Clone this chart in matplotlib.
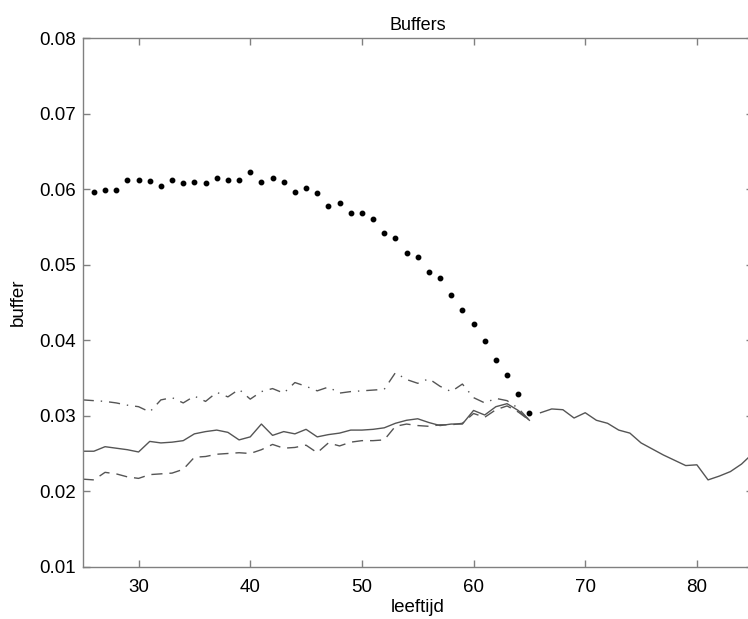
import numpy as np
import matplotlib.pyplot as plt

plt.rcParams['font.family'] = ['Liberation Sans', 'DejaVu Sans']

# ages
ages_work = np.arange(25, 66)
ages_dot = np.arange(26, 66)
ages_pension = np.arange(66, 86)

solid = [0.0253, 0.0253, 0.0259, 0.0257, 0.0255, 0.0252, 0.0266, 0.0264, 0.0265, 0.0267,
         0.0276, 0.0279, 0.0281, 0.0278, 0.0268, 0.0272, 0.0289, 0.0274, 0.0279, 0.0276,
         0.0282, 0.0272, 0.0275, 0.0277, 0.0281, 0.0281, 0.0282, 0.0284, 0.0290, 0.0294,
         0.0296, 0.0291, 0.0287, 0.0289, 0.0289, 0.0307, 0.0301, 0.0312, 0.0316, 0.0307,
         0.0294]
dashed = [0.0216, 0.0215, 0.0225, 0.0223, 0.0219, 0.0217, 0.0222, 0.0223, 0.0224, 0.0229,
          0.0245, 0.0246, 0.0249, 0.0250, 0.0251, 0.0250, 0.0255, 0.0262, 0.0257, 0.0258,
          0.0261, 0.0251, 0.0264, 0.0260, 0.0265, 0.0267, 0.0267, 0.0268, 0.0286, 0.0289,
          0.0287, 0.0286, 0.0288, 0.0288, 0.0290, 0.0303, 0.0298, 0.0308, 0.0313, 0.0305,
          0.0294]
dashdot = [0.0321, 0.0320, 0.0319, 0.0317, 0.0314, 0.0312, 0.0305, 0.0321, 0.0324, 0.0317,
           0.0326, 0.0319, 0.0331, 0.0325, 0.0335, 0.0322, 0.0332, 0.0336, 0.0330, 0.0344,
           0.0339, 0.0333, 0.0338, 0.0330, 0.0332, 0.0333, 0.0334, 0.0335, 0.0357, 0.0348,
           0.0343, 0.0349, 0.0339, 0.0332, 0.0342, 0.0324, 0.0317, 0.0323, 0.0320, 0.0310,
           0.0294]
dotted = [0.0597, 0.0599, 0.0599, 0.0612, 0.0612, 0.0611, 0.0605, 0.0613, 0.0609, 0.0610,
          0.0608, 0.0615, 0.0612, 0.0612, 0.0623, 0.0610, 0.0615, 0.0610, 0.0596, 0.0602,
          0.0595, 0.0578, 0.0582, 0.0569, 0.0569, 0.0561, 0.0542, 0.0536, 0.0515, 0.0510,
          0.0490, 0.0482, 0.0460, 0.0440, 0.0422, 0.0399, 0.0374, 0.0354, 0.0329, 0.0303]
pension = [0.0304, 0.0309, 0.0308, 0.0297, 0.0304, 0.0294, 0.0290, 0.0281, 0.0277, 0.0264,
           0.0256, 0.0248, 0.0241, 0.0234, 0.0235, 0.0215, 0.0220, 0.0226, 0.0236, 0.0250]

fig = plt.figure(figsize=(7.48, 6.19), dpi=100)
ax = fig.add_axes([0.1106, 0.0845, 0.8957, 0.8535])

line_col = '#555555'
ax.plot(ages_work, solid, color=line_col, lw=1.0)
ax.plot(ages_work, dashed, color=line_col, lw=1.0, dashes=(8, 5))
ax.plot(ages_work, dashdot, color=line_col, lw=1.0, dashes=(8, 5, 1, 5))
ax.plot(ages_pension, pension, color=line_col, lw=1.0)
ax.plot(ages_dot, dotted, 'o', color='black', ms=3.2, ls='none', clip_on=False)

ax.set_xlim(25, 85)
ax.set_ylim(0.01, 0.08)
ax.set_xticks([30, 40, 50, 60, 70, 80])
ax.set_yticks([0.01, 0.02, 0.03, 0.04, 0.05, 0.06, 0.07, 0.08])
ax.set_yticklabels(['0.01', '0.02', '0.03', '0.04', '0.05', '0.06', '0.07', '0.08'])

for s in ax.spines.values():
    s.set_color('#808080')
    s.set_linewidth(1.0)
ax.tick_params(direction='in', length=5, width=1.0, color='#808080',
               top=True, right=True, labelsize=13.5)
ax.tick_params(axis='x', pad=9)
ax.tick_params(axis='y', pad=5)

ax.set_title('Buffers', fontsize=13, pad=6)
ax.set_xlabel('leeftijd', fontsize=13.5, labelpad=2)
ax.set_ylabel('buffer', fontsize=13.5, labelpad=9)

fig.savefig('out.png', dpi=100)
